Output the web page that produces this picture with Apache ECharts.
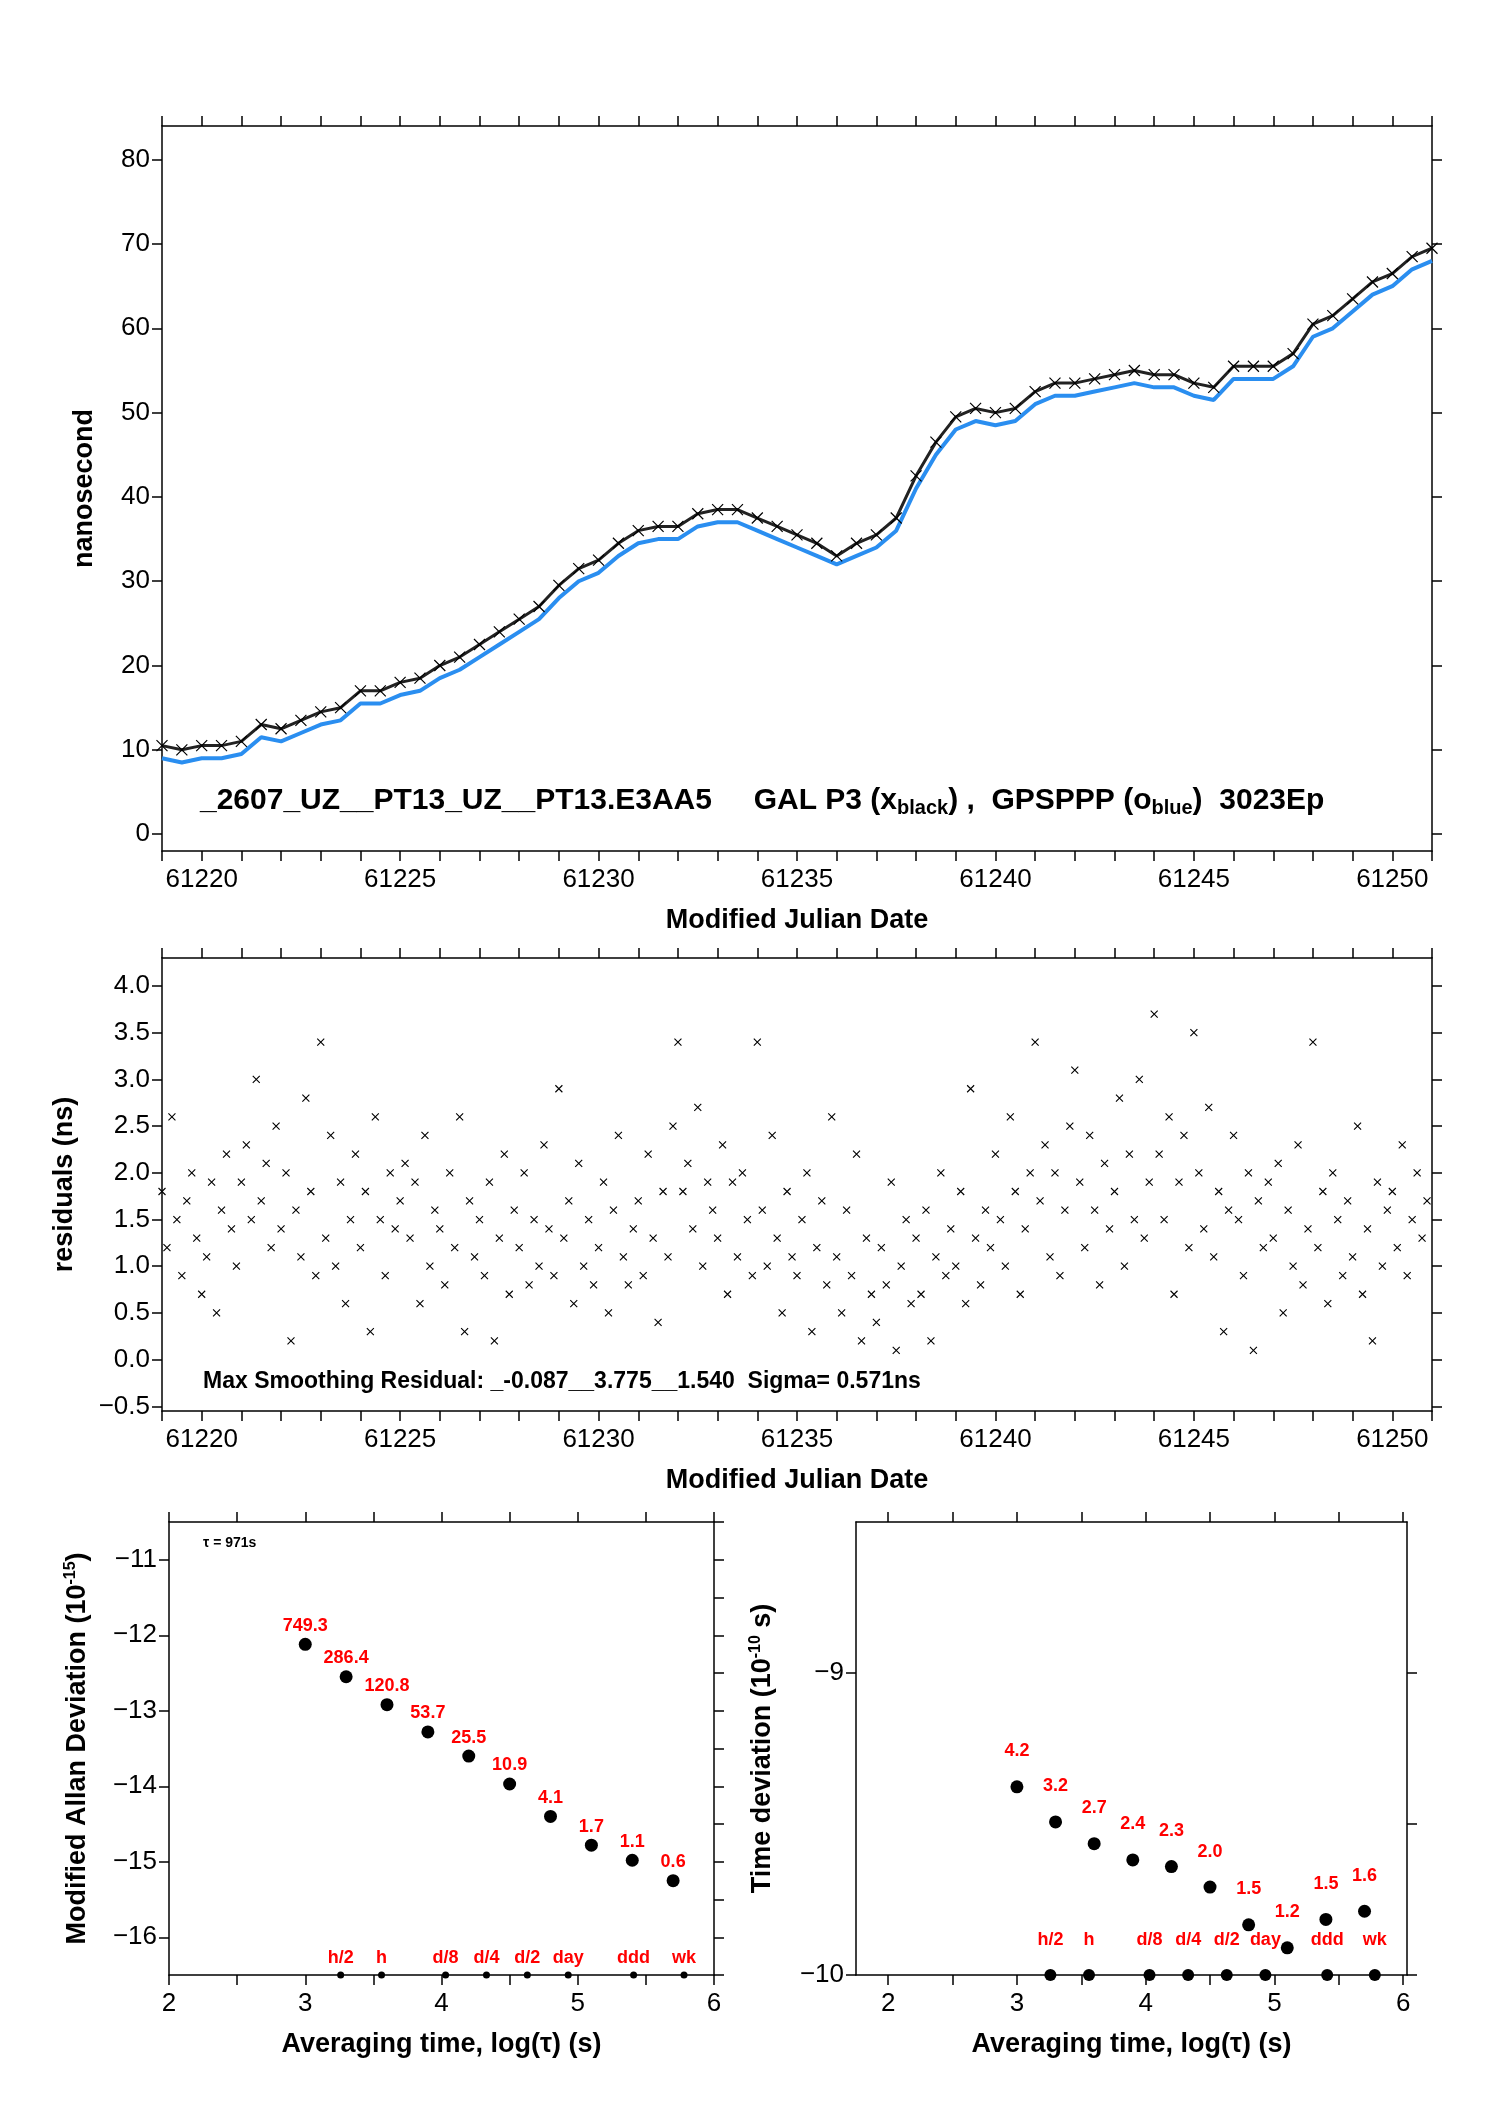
<!DOCTYPE html>
<html lang="en">
<head>
  <meta charset="UTF-8">
  <title>GAL P3 vs GPSPPP</title>
  <style>html,body{margin:0;padding:0;background:#fff;}</style>
</head>
<body>
  <div id="chart" style="width:1488px;height:2105px;"></div>
<script src="https://cdn.jsdelivr.net/npm/echarts@6/dist/echarts.min.js"></script>
<script>
  // time series, sampled every half day from MJD 61219
  var mjdStart = 61219, mjdStep = 0.5;
  var galP3 = [10.5,10,10.5,10.5,11,13,12.5,13.5,14.5,15,17,17,18,18.5,20,21,22.5,24,25.5,27,29.5,31.5,32.5,34.5,36,36.5,36.5,38,38.5,38.5,37.5,36.5,35.5,34.5,33,34.5,35.5,37.5,42.5,46.5,49.5,50.5,50,50.5,52.5,53.5,53.5,54,54.5,55,54.5,54.5,53.5,53,55.5,55.5,55.5,57,60.5,61.5,63.5,65.5,66.5,68.5,69.5];
  var gpsPPP = [9,8.5,9,9,9.5,11.5,11,12,13,13.5,15.5,15.5,16.5,17,18.5,19.5,21,22.5,24,25.5,28,30,31,33,34.5,35,35,36.5,37,37,36,35,34,33,32,33,34,36,41,45,48,49,48.5,49,51,52,52,52.5,53,53.5,53,53,52,51.5,54,54,54,55.5,59,60,62,64,65,67,68];

  // residuals, 8 per day from MJD 61219
  var resStart = 61219, resStep = 0.125;
  var residuals = [
    1.8,1.2,2.6,1.5,0.9,1.7,2.0,1.3, 0.7,1.1,1.9,0.5,1.6,2.2,1.4,1.0,
    1.9,2.3,1.5,3.0,1.7,2.1,1.2,2.5, 1.4,2.0,0.2,1.6,1.1,2.8,1.8,0.9,
    3.4,1.3,2.4,1.0,1.9,0.6,1.5,2.2, 1.2,1.8,0.3,2.6,1.5,0.9,2.0,1.4,
    1.7,2.1,1.3,1.9,0.6,2.4,1.0,1.6, 1.4,0.8,2.0,1.2,2.6,0.3,1.7,1.1,
    1.5,0.9,1.9,0.2,1.3,2.2,0.7,1.6, 1.2,2.0,0.8,1.5,1.0,2.3,1.4,0.9,
    2.9,1.3,1.7,0.6,2.1,1.0,1.5,0.8, 1.2,1.9,0.5,1.6,2.4,1.1,0.8,1.4,
    1.7,0.9,2.2,1.3,0.4,1.8,1.1,2.5, 3.4,1.8,2.1,1.4,2.7,1.0,1.9,1.6,
    1.3,2.3,0.7,1.9,1.1,2.0,1.5,0.9, 3.4,1.6,1.0,2.4,1.3,0.5,1.8,1.1,
    0.9,1.5,2.0,0.3,1.2,1.7,0.8,2.6, 1.1,0.5,1.6,0.9,2.2,0.2,1.3,0.7,
    0.4,1.2,0.8,1.9,0.1,1.0,1.5,0.6, 1.3,0.7,1.6,0.2,1.1,2.0,0.9,1.4,
    1.0,1.8,0.6,2.9,1.3,0.8,1.6,1.2, 2.2,1.5,1.0,2.6,1.8,0.7,1.4,2.0,
    3.4,1.7,2.3,1.1,2.0,0.9,1.6,2.5, 3.1,1.9,1.2,2.4,1.6,0.8,2.1,1.4,
    1.8,2.8,1.0,2.2,1.5,3.0,1.3,1.9, 3.7,2.2,1.5,2.6,0.7,1.9,2.4,1.2,
    3.5,2.0,1.4,2.7,1.1,1.8,0.3,1.6, 2.4,1.5,0.9,2.0,0.1,1.7,1.2,1.9,
    1.3,2.1,0.5,1.6,1.0,2.3,0.8,1.4, 3.4,1.2,1.8,0.6,2.0,1.5,0.9,1.7,
    1.1,2.5,0.7,1.4,0.2,1.9,1.0,1.6, 1.8,1.2,2.3,0.9,1.5,2.0,1.3,1.7
  ];

  // stability
  var logTau = [3, 3.3, 3.6, 3.9, 4.2, 4.5, 4.8, 5.1, 5.4, 5.7];
  var madev = [-12.12, -12.55, -12.92, -13.28, -13.6, -13.97, -14.4, -14.78, -14.98, -15.25];
  var madevLabels = ['749.3','286.4','120.8','53.7','25.5','10.9','4.1','1.7','1.1','0.6'];
  var tdev = [-9.377, -9.493, -9.565, -9.619, -9.641, -9.709, -9.834, -9.91, -9.816, -9.789];
  var tdevLabels = ['4.2','3.2','2.7','2.4','2.3','2.0','1.5','1.2','1.5','1.6'];
  var markTau = [3.26, 3.56, 4.03, 4.33, 4.63, 4.93, 5.41, 5.78];
  var markNames = ['h/2','h','d/8','d/4','d/2','day','ddd','wk'];

  var mjdTicks = [61220, 61225, 61230, 61235, 61240, 61245, 61250];
  var mjdMinor = [];
  for (var d = 61219; d <= 61251; d++) mjdMinor.push(d);

  function pairs(x0, step, arr) {
    return arr.map(function (v, i) { return [x0 + i * step, v]; });
  }
  function zip(xs, ys) {
    return xs.map(function (x, i) { return [x, ys[i]]; });
  }
  function minus(v, dec) {
    var s = dec ? Math.abs(v).toFixed(dec) : String(Math.abs(v));
    return (v < 0 ? '\u2212' : '') + s;
  }

  var font = 'Liberation Sans';
  var line = { onZero: false, lineStyle: { color: '#000', width: 1.5 } };

  function xAx(grid, min, max, labels, ticks, pos, show, name) {
    return {
      type: 'value', gridIndex: grid, min: min, max: max, position: pos,
      name: name || '', nameLocation: 'middle', nameGap: 56,
      nameTextStyle: { fontFamily: font, fontSize: 27, fontWeight: 'bold', color: '#000' },
      axisLine: line,
      axisTick: { show: true, length: 10, customValues: ticks, lineStyle: { color: '#000', width: 1.5 } },
      axisLabel: { show: show, customValues: labels, margin: 16, fontFamily: font, fontSize: 26, color: '#000',
        formatter: function (v) { return String(v); } },
      splitLine: { show: false }
    };
  }
  function yAx(grid, min, max, labels, ticks, pos, show, name, dec, gap) {
    return {
      type: 'value', gridIndex: grid, min: min, max: max, position: pos,
      name: name || '', nameLocation: 'middle', nameGap: gap || 60,
      nameTextStyle: { fontFamily: font, fontSize: 27, fontWeight: 'bold', color: '#000',
        rich: { sup: { fontFamily: font, fontSize: 16, fontWeight: 'bold', verticalAlign: 'top', padding: [0, 0, 14, 0] } } },
      axisLine: line,
      axisTick: { show: true, length: 10, customValues: ticks, lineStyle: { color: '#000', width: 1.5 } },
      axisLabel: { show: show, customValues: labels, margin: 12, fontFamily: font, fontSize: 26, color: '#000',
        formatter: function (v) { return minus(v, dec); } },
      splitLine: { show: false }
    };
  }

  var tenTicks = [0, 10, 20, 30, 40, 50, 60, 70, 80];
  var resTicks = [-0.5, 0, 0.5, 1, 1.5, 2, 2.5, 3, 3.5, 4];
  var adevTicks = [-16, -15, -14, -13, -12, -11];
  var adevHalf = [-16.5, -16, -15.5, -15, -14.5, -14, -13.5, -13, -12.5, -12, -11.5, -11, -10.5];
  var tauTicks = [2, 3, 4, 5, 6];
  var tauHalf = [2, 2.5, 3, 3.5, 4, 4.5, 5, 5.5, 6];

  var chart = echarts.init(document.getElementById('chart'));
  var redLabel = { show: true, position: 'top', color: '#ff0000', fontFamily: font, fontWeight: 'bold', fontSize: 18 };

  var option = {
    backgroundColor: '#fff',
    animation: false,
    grid: [
      { left: 162, top: 126, width: 1270, height: 725 },
      { left: 162, top: 958, width: 1270, height: 453 },
      { left: 169, top: 1522, width: 545, height: 453 },
      { left: 856, top: 1522, width: 551, height: 453 }
    ],
    xAxis: [
      xAx(0, 61219, 61251, mjdTicks, mjdMinor, 'bottom', true, 'Modified Julian Date'),
      xAx(0, 61219, 61251, mjdTicks, mjdMinor, 'top', false),
      xAx(1, 61219, 61251, mjdTicks, mjdMinor, 'bottom', true, 'Modified Julian Date'),
      xAx(1, 61219, 61251, mjdTicks, mjdMinor, 'top', false),
      xAx(2, 2, 6, tauTicks, tauHalf, 'bottom', true, 'Averaging time, log(\u03c4) (s)'),
      xAx(2, 2, 6, tauTicks, tauHalf, 'top', false),
      xAx(3, 1.75, 6.03, tauTicks, tauHalf, 'bottom', true, 'Averaging time, log(\u03c4) (s)'),
      xAx(3, 1.75, 6.03, tauTicks, tauHalf, 'top', false)
    ],
    yAxis: [
      yAx(0, -2, 84, tenTicks, tenTicks, 'left', true, 'nanosecond', 0, 64),
      yAx(0, -2, 84, tenTicks, tenTicks, 'right', false),
      yAx(1, -0.55, 4.3, resTicks, resTicks, 'left', true, 'residuals (ns)', 1, 84),
      yAx(1, -0.55, 4.3, resTicks, resTicks, 'right', false),
      yAx(2, -16.5, -10.5, adevTicks, adevTicks, 'left', true, 'Modified Allan Deviation (10{sup|-15})', 0, 76),
      yAx(2, -16.5, -10.5, adevTicks, adevHalf, 'right', false),
      yAx(3, -10, -8.5, [-10, -9], [-10, -9], 'left', true, 'Time deviation (10{sup|-10} s)', 0, 78),
      yAx(3, -10, -8.5, [-10, -9], [-10, -9.5, -9], 'right', false)
    ],
    series: [
      {
        type: 'line', xAxisIndex: 0, yAxisIndex: 0, data: pairs(mjdStart, mjdStep, gpsPPP),
        showSymbol: false, lineStyle: { color: '#2a8ef0', width: 4 }
      },
      {
        type: 'line', xAxisIndex: 0, yAxisIndex: 0, data: pairs(mjdStart, mjdStep, galP3),
        symbol: 'path://M0,0L10,10M10,0L0,10', symbolSize: 11,
        itemStyle: { color: 'none', borderColor: '#000', borderWidth: 1.2 },
        lineStyle: { color: '#222', width: 3 }
      },
      {
        type: 'scatter', xAxisIndex: 2, yAxisIndex: 2, data: pairs(resStart, resStep, residuals),
        symbol: 'path://M0,0L10,10M10,0L0,10', symbolSize: 7,
        itemStyle: { color: 'none', borderColor: '#000', borderWidth: 1.1, opacity: 1 }
      },
      {
        type: 'scatter', xAxisIndex: 4, yAxisIndex: 4, data: zip(logTau, madev),
        symbolSize: 13, itemStyle: { color: '#000', opacity: 1 },
        label: Object.assign({}, redLabel, { distance: 3, formatter: function (p) { return madevLabels[p.dataIndex]; } })
      },
      {
        type: 'scatter', xAxisIndex: 4, yAxisIndex: 4, clip: true,
        data: markTau.map(function (t) { return [t, -16.5]; }),
        symbolSize: 7, itemStyle: { color: '#000', opacity: 1 },
        label: Object.assign({}, redLabel, { distance: 4, formatter: function (p) { return markNames[p.dataIndex]; } })
      },
      {
        type: 'scatter', xAxisIndex: 6, yAxisIndex: 6, data: zip(logTau, tdev),
        symbolSize: 13, itemStyle: { color: '#000', opacity: 1 },
        label: Object.assign({}, redLabel, { distance: 20, formatter: function (p) { return tdevLabels[p.dataIndex]; } })
      },
      {
        type: 'scatter', xAxisIndex: 6, yAxisIndex: 6, clip: false,
        data: markTau.map(function (t) { return [t, -10]; }),
        symbolSize: 12, itemStyle: { color: '#000', opacity: 1 },
        label: Object.assign({}, redLabel, { distance: 20, formatter: function (p) { return markNames[p.dataIndex]; } })
      }
    ],
    graphic: [
      {
        type: 'text', left: 200, top: 786,
        style: {
          text: '{b|_2607_UZ__PT13_UZ__PT13.E3AA5     GAL P3 (x}{s|black}{b|) ,  GPSPPP (o}{s|blue}{b|)  3023Ep}',
          rich: {
            b: { fontFamily: font, fontSize: 30, fontWeight: 'bold', fill: '#000' },
            s: { fontFamily: font, fontSize: 20, fontWeight: 'bold', fill: '#000', padding: [14, 0, 0, 0] }
          }
        }
      },
      {
        type: 'text', left: 203, top: 1370,
        style: { text: 'Max Smoothing Residual: _-0.087__3.775__1.540  Sigma= 0.571ns',
          fontFamily: font, fontSize: 23, fontWeight: 'bold', fill: '#000' }
      },
      {
        type: 'text', left: 203, top: 1536,
        style: { text: '\u03c4 = 971s', fontFamily: font, fontSize: 14, fontWeight: 'bold', fill: '#000' }
      }
    ]
  };

  chart.setOption(option);
</script>
</body>
</html>
